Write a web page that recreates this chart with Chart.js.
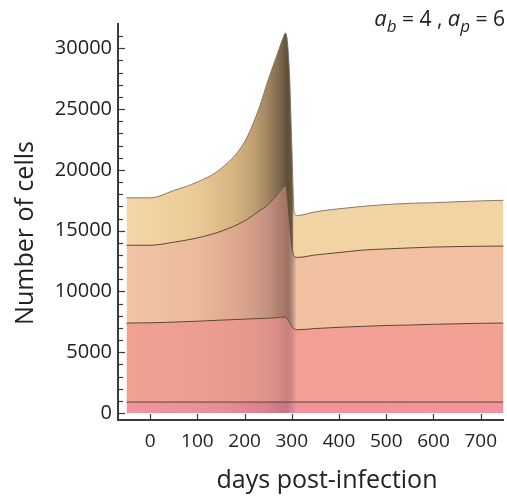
<!DOCTYPE html>
<html>
<head>
<meta charset="utf-8">
<script src="https://cdn.jsdelivr.net/npm/chart.js@4.4.1/dist/chart.umd.min.js"></script>
<style>
  html, body { margin: 0; padding: 0; background: #fff; }
  #wrap { width: 507px; height: 496px; }
</style>
</head>
<body>
<div id="wrap"><canvas id="cellsChart" width="507" height="496"></canvas></div>
<script>
// days post-infection (sample points)
const days = [-50, 0, 50, 100, 150, 200, 230, 250, 270, 280, 287, 295, 300, 305, 312,
              350, 400, 450, 500, 550, 600, 650, 700, 750];

// stacked boundaries (cumulative number of cells), bottom to top
const level1 = [900, 900, 900, 900, 900, 900, 900, 900, 900, 900, 900, 900, 900, 900, 900,
                900, 900, 900, 900, 900, 900, 900, 900, 900];
const level2 = [7400, 7420, 7480, 7550, 7640, 7720, 7770, 7800, 7850, 7890, 7880, 7450, 7120, 6920, 6850,
                6950, 7050, 7130, 7200, 7240, 7300, 7340, 7380, 7400];
const level3 = [13800, 13800, 14050, 14400, 14950, 15800, 16600, 17150, 18000, 18500, 18700, 15800, 13700, 12900, 12800,
                13000, 13200, 13400, 13500, 13580, 13650, 13690, 13720, 13730];
const level4 = [17700, 17700, 18300, 19000, 20100, 22300, 25000, 27400, 29600, 30700, 31250, 28000, 22000, 16500, 16250,
                16550, 16800, 17000, 17150, 17250, 17300, 17380, 17450, 17500];

const xTickLabels = [0, 100, 200, 300, 400, 500, 600, 700];
const yTickLabels = [0, 5000, 10000, 15000, 20000, 25000, 30000];
// minor y ticks (every 1000)
const yMinorTicks = [0, 1000, 2000, 3000, 4000, 5000, 6000, 7000, 8000, 9000, 10000, 11000, 12000, 13000,
                     14000, 15000, 16000, 17000, 18000, 19000, 20000, 21000, 22000, 23000, 24000, 25000,
                     26000, 27000, 28000, 29000, 30000, 31000];

const FONT = "'Open Sans', 'DejaVu Sans', sans-serif";
const X_MIN = -68, X_MAX = 748;

// horizontal shading, stops given in days
function shade(stops, fallback) {
    return function (context) {
        const chart = context.chart;
        if (!chart.chartArea || !chart.scales.x) return fallback;
        const xs = chart.scales.x;
        const x0 = xs.getPixelForValue(X_MIN), x1 = xs.getPixelForValue(X_MAX);
        const g = chart.ctx.createLinearGradient(x0, 0, x1, 0);
        stops.forEach(([d, c]) => {
            const f = (d - X_MIN) / (X_MAX - X_MIN);
            g.addColorStop(Math.min(1, Math.max(0, f)), c);
        });
        return g;
    };
}

const toPoints = arr => days.map((d, i) => ({ x: d, y: arr[i] }));

const shadeTop = shade([[-50, '#f3d6a6'], [0, '#f2d4a3'], [100, '#eac996'], [170, '#d9b785'],
    [220, '#bf9f72'], [250, '#a08560'], [275, '#7b684b'], [291, '#5e4f38'], [301, '#6b5a40'],
    [304, '#f2d3a3'], [750, '#f2d3a3']], '#f2d4a3');
const shadePeach = shade([[-50, '#f1c4a5'], [100, '#ecba9c'], [200, '#d9a48a'], [250, '#c49181'],
    [278, '#a97b69'], [293, '#9d7262'], [302, '#b99080'], [310, '#f0c0a1'], [750, '#f1c1a2']], '#f1c1a2');
const shadeSalmon = shade([[-50, '#f0a192'], [150, '#ec9c8f'], [230, '#e3968a'], [270, '#d78d86'],
    [289, '#ca8280'], [300, '#d08987'], [310, '#f2a093'], [750, '#f3a193']], '#f0a192');
const shadePink = shade([[-50, '#f2959d'], [150, '#e98d97'], [250, '#db808c'], [289, '#c67483'],
    [300, '#d48693'], [310, '#f2939c'], [750, '#f3949d']], '#f2959d');

const lineColor = '#5c4535';

// inward tick marks, axis titles and the parameter label
const decorPlugin = {
    id: 'decor',
    afterDraw(chart) {
        const { ctx, scales: { x, y } } = chart;
        ctx.save();
        ctx.strokeStyle = '#3a3a3a';
        ctx.lineWidth = 1.2;
        // y ticks every 1000, long every 5000
        y.ticks.forEach(t => {
            const py = Math.round(y.getPixelForValue(t.value)) + 0.5;
            const len = yTickLabels.includes(t.value) ? 7 : 5;
            ctx.beginPath();
            ctx.moveTo(x.left, py);
            ctx.lineTo(x.left + len, py);
            ctx.stroke();
        });
        // x ticks
        x.ticks.forEach(t => {
            const px = Math.round(x.getPixelForValue(t.value)) + 0.5;
            ctx.beginPath();
            ctx.moveTo(px, y.bottom);
            ctx.lineTo(px, y.bottom - 6);
            ctx.stroke();
        });

        ctx.fillStyle = '#222';
        // x title
        ctx.font = '25px ' + FONT;
        ctx.textAlign = 'center';
        ctx.textBaseline = 'alphabetic';
        ctx.fillText('days post-infection', 327, 488);
        // y title
        ctx.save();
        ctx.translate(33, 233);
        ctx.rotate(-Math.PI / 2);
        ctx.fillText('Number of cells', 0, 0);
        ctx.restore();

        // a_b = 4 , a_p = 6
        const parts = [
            { t: 'a', f: 'italic 22px ' + FONT, dy: 0 },
            { t: 'b', f: 'italic 17px ' + FONT, dy: 6 },
            { t: ' = 4 , ', f: '21px ' + FONT, dy: 0 },
            { t: 'a', f: 'italic 22px ' + FONT, dy: 0 },
            { t: 'p', f: 'italic 17px ' + FONT, dy: 6 },
            { t: ' = 6', f: '21px ' + FONT, dy: 0 }
        ];
        let total = 0;
        parts.forEach(p => { ctx.font = p.f; p.w = ctx.measureText(p.t).width; total += p.w; });
        let cx = 505 - total;
        ctx.textAlign = 'left';
        parts.forEach(p => {
            ctx.font = p.f;
            ctx.fillText(p.t, cx, 26 + p.dy);
            cx += p.w;
        });
        ctx.restore();
    }
};

const ctx = document.getElementById('cellsChart').getContext('2d');
new Chart(ctx, {
    type: 'line',
    data: {
        datasets: [
            { data: toPoints(level1), fill: 'origin', backgroundColor: shadePink, borderColor: lineColor },
            { data: toPoints(level2), fill: '-1', backgroundColor: shadeSalmon, borderColor: lineColor },
            { data: toPoints(level3), fill: '-1', backgroundColor: shadePeach, borderColor: lineColor },
            { data: toPoints(level4), fill: '-1', backgroundColor: shadeTop, borderColor: 'rgba(125,110,100,0.9)' }
        ]
    },
    options: {
        responsive: false,
        animation: false,
        events: [],
        layout: { padding: { top: 24, left: 0, right: 0, bottom: 0 } },
        elements: {
            point: { radius: 0 },
            line: { borderWidth: 1, cubicInterpolationMode: 'monotone' }
        },
        plugins: { legend: { display: false }, tooltip: { enabled: false } },
        scales: {
            x: {
                type: 'linear',
                min: X_MIN,
                max: X_MAX,
                afterFit(scale) { scale.height = 76; },
                afterBuildTicks(scale) { scale.ticks = xTickLabels.map(v => ({ value: v })); },
                grid: { display: false, drawTicks: false },
                border: { display: true, color: '#3a3a3a', width: 2 },
                ticks: {
                    autoSkip: false,
                    maxRotation: 0,
                    padding: 10,
                    color: '#222',
                    font: { family: FONT, size: 19 },
                    callback: v => String(v)
                }
            },
            y: {
                type: 'linear',
                min: -575,
                max: 32000,
                afterFit(scale) { scale.width = 118; },
                afterBuildTicks(scale) { scale.ticks = yMinorTicks.map(v => ({ value: v })); },
                grid: { display: false, drawTicks: false },
                border: { display: true, color: '#3a3a3a', width: 2 },
                ticks: {
                    autoSkip: false,
                    padding: 6,
                    color: '#222',
                    font: { family: FONT, size: 20 },
                    callback: v => yTickLabels.includes(v) ? String(v) : ''
                }
            }
        }
    },
    plugins: [decorPlugin]
});
</script>
</body>
</html>
